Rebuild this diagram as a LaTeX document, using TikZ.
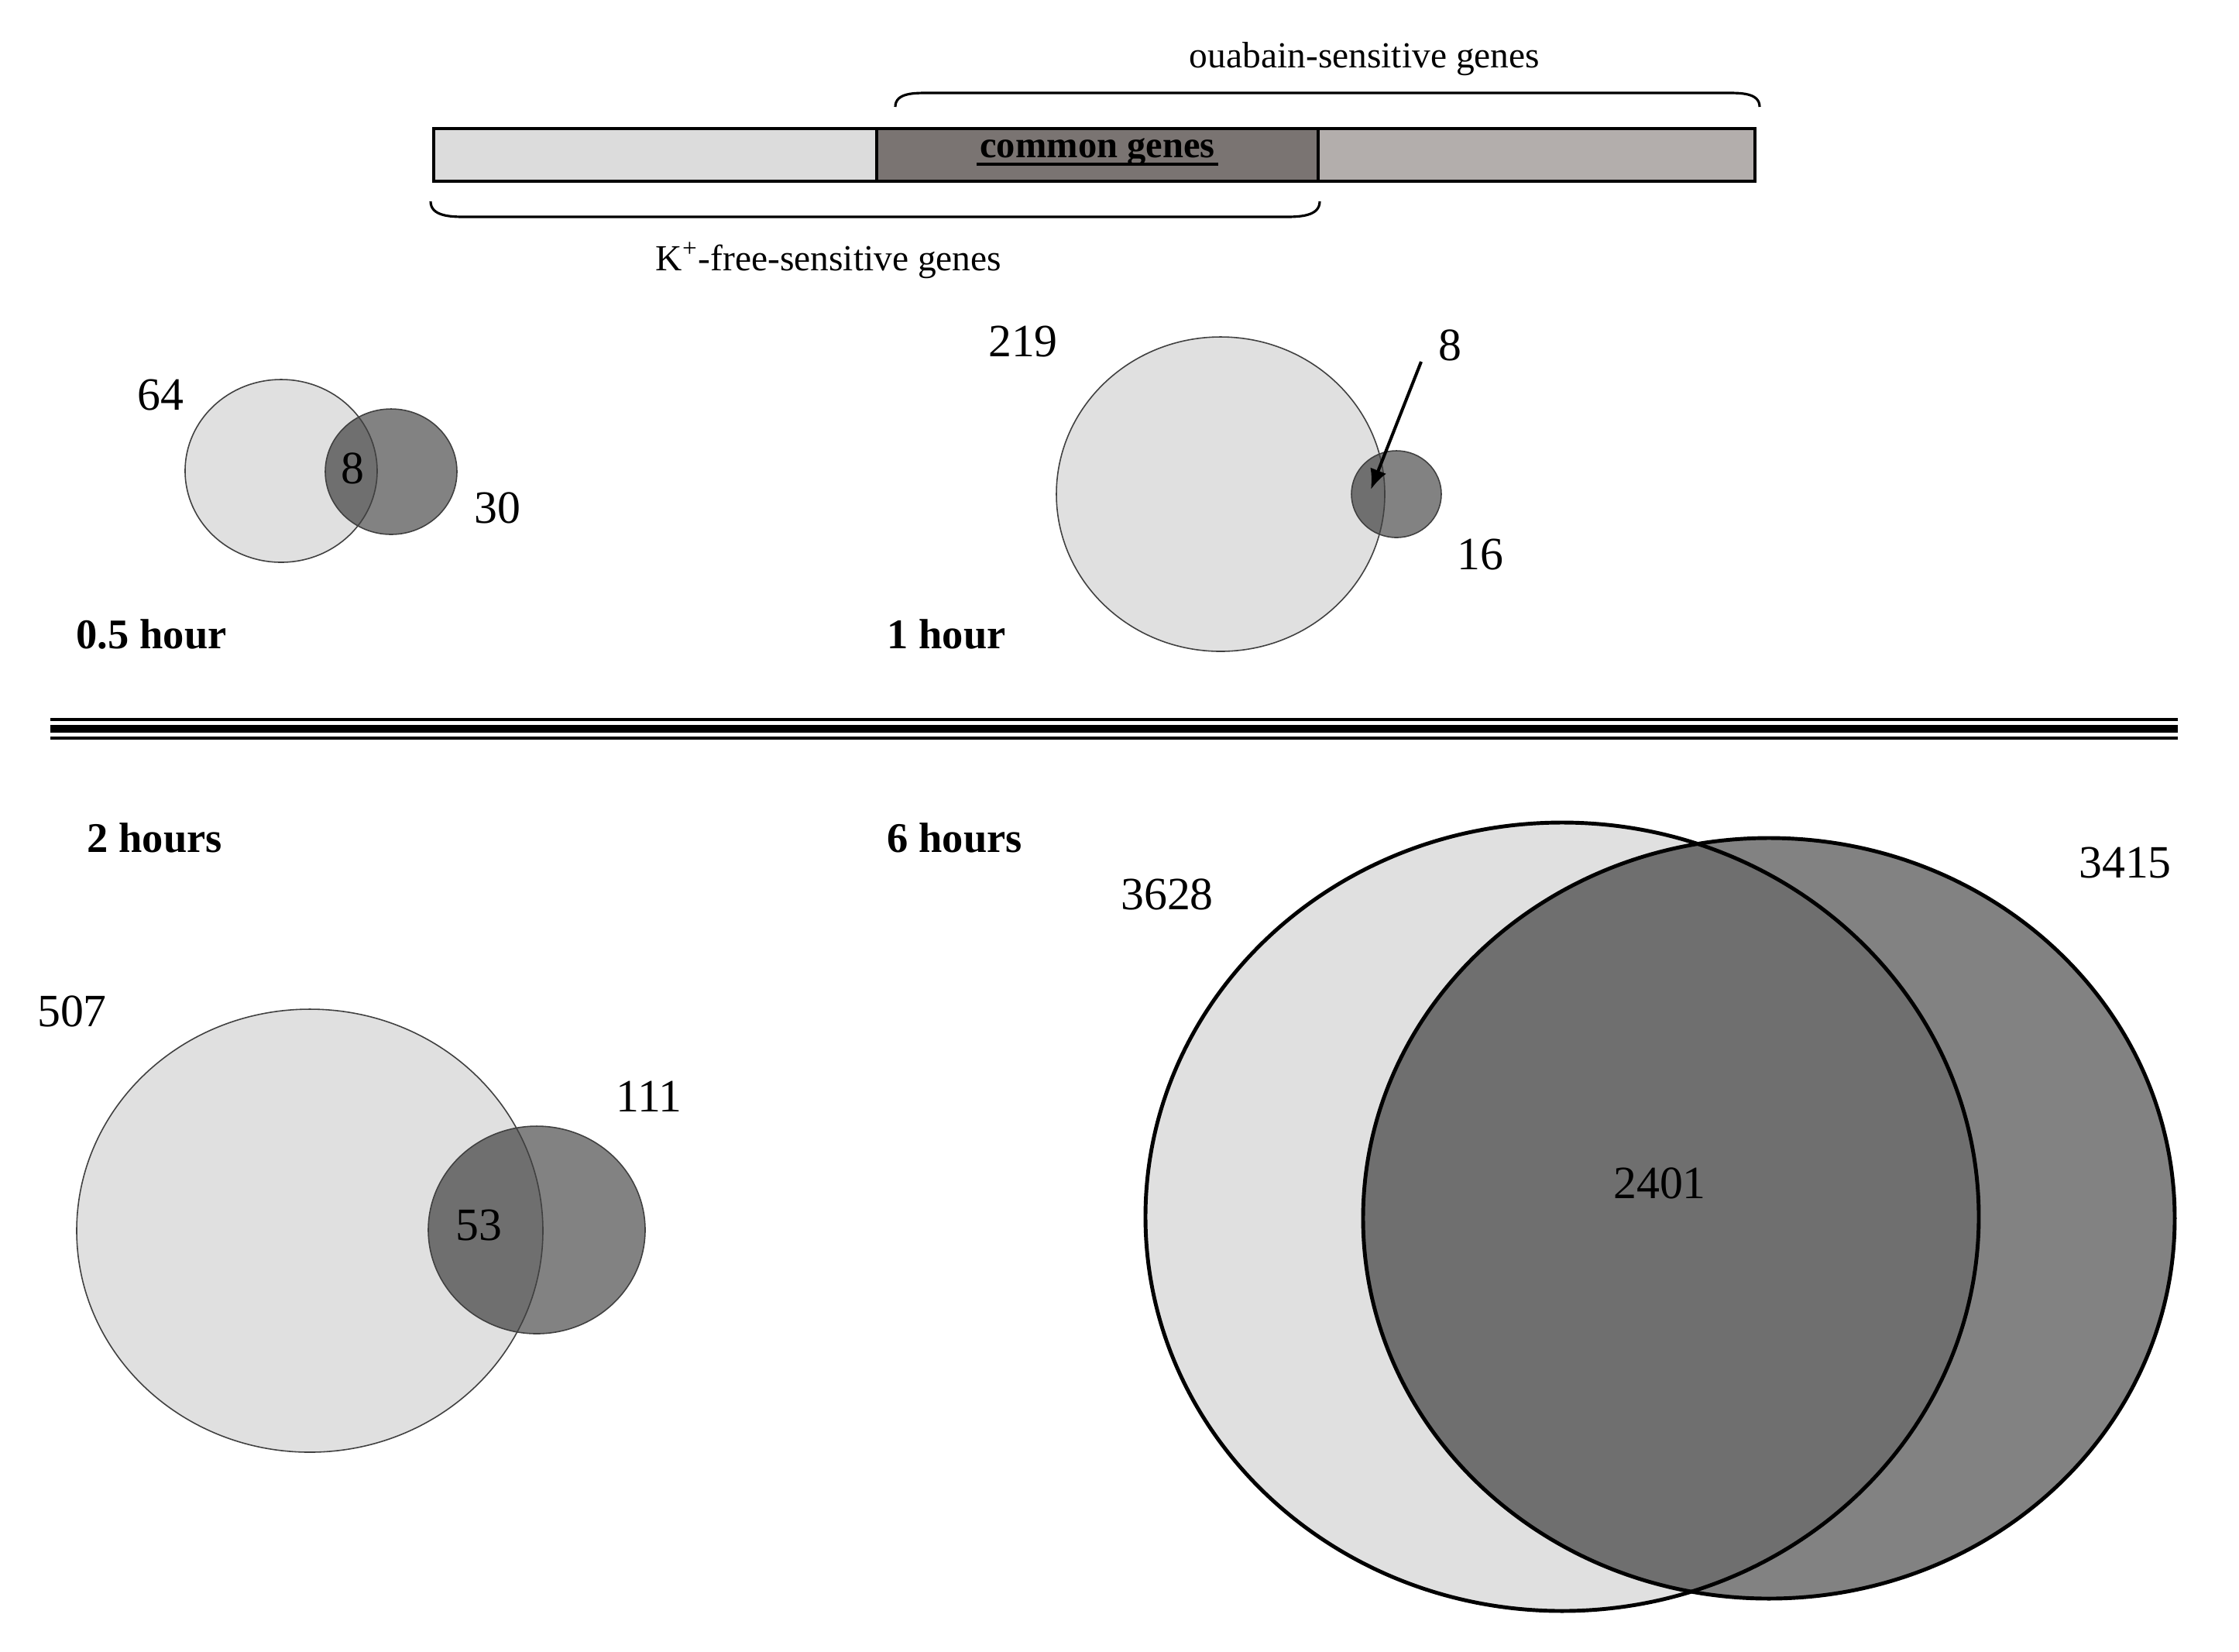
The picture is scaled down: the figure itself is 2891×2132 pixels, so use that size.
\documentclass[tikz,border=0pt]{standalone}
\usepackage{fontspec}
\setmainfont{Liberation Serif}
\usetikzlibrary{arrows.meta}
\definecolor{lightfill}{HTML}{E0E0E0}
\definecolor{darkfill}{HTML}{828282}
\definecolor{overfill}{HTML}{6F6F6F}
\definecolor{barleft}{HTML}{DCDCDC}
\definecolor{barmid}{HTML}{7A7472}
\definecolor{barright}{HTML}{B3AEAC}
\begin{document}
\begin{tikzpicture}[x=0.01cm,y=-0.01cm,
  num/.style={font=\fontsize{17}{20}\selectfont, inner sep=0pt},
  timelbl/.style={font=\fontsize{15.5}{18}\selectfont\bfseries, anchor=west, inner sep=0pt},
  toplbl/.style={font=\fontsize{13.5}{16}\selectfont, inner sep=0pt},
  thinout/.style={draw=black!75, line width=0.45pt},
  thickout/.style={draw=black, line width=1.4pt},
  barpart/.style={draw=black, line width=0.9pt},
  bracket/.style={draw=black, line width=0.9pt}]
\useasboundingbox (0,0) rectangle (2891,2132);

% ---- top bar ----
\draw[barpart, fill=barleft] (560,166) rectangle (1132,234);
\draw[barpart, fill=barright] (1702,166) rectangle (2266,234);
\draw[barpart, fill=barmid] (1132,166) rectangle (1702,234);
\node[font=\fontsize{13.8}{16}\selectfont\bfseries, inner sep=0pt, anchor=base] (common) at (1417,203) {common genes};
\draw[line width=1.4pt] ([xshift=-1pt]common.base west |- 0,212) -- ([xshift=1pt]common.base east |- 0,212);

% brackets
\draw[bracket] (1156,138) to[out=90,in=180] (1200,120) -- (2228,120) to[out=0,in=90] (2272,138);
\draw[bracket] (556,260) to[out=-90,in=180] (600,280) -- (1660,280) to[out=0,in=-90] (1704,260);
\node[toplbl] (oua) at (1762,76) {ouabain-sensitive genes};
\node[toplbl] (kfree) at (1070,336) {K\textsuperscript{+}-free-sensitive genes};

% ---- 0.5 hour ----
\fill[lightfill] (363,608) ellipse [x radius=124, y radius=118];
\fill[darkfill] (505,609) ellipse [x radius=85, y radius=81];
\begin{scope}
  \clip (363,608) ellipse [x radius=124, y radius=118];
  \fill[overfill] (505,609) ellipse [x radius=85, y radius=81];
\end{scope}
\draw[thinout] (363,608) ellipse [x radius=124, y radius=118];
\draw[thinout] (505,609) ellipse [x radius=85, y radius=81];
\node[num] (h05a) at (207,510) {64};
\node[num] (h05b) at (455,605) {8};
\node[num] (h05c) at (642,656) {30};
\node[timelbl] (t05) at (98,819) {0.5 hour};

% ---- 1 hour ----
\fill[lightfill] (1576,638) ellipse [x radius=212, y radius=203];
\fill[darkfill] (1803,638) ellipse [x radius=58, y radius=56];
\begin{scope}
  \clip (1576,638) ellipse [x radius=212, y radius=203];
  \fill[overfill] (1803,638) ellipse [x radius=58, y radius=56];
\end{scope}
\draw[thinout] (1576,638) ellipse [x radius=212, y radius=203];
\draw[thinout] (1803,638) ellipse [x radius=58, y radius=56];
\node[num] (h1a) at (1321,441) {219};
\node[num] (h1b) at (1872,446) {8};
\node[num] (h1c) at (1911,716) {16};
\coordinate (arrS) at (1835,467);
\coordinate (arrE) at (1770,632);
\draw[line width=1.15pt, -{Latex[length=0.26cm,width=0.22cm]}] (arrS) -- (arrE);
\node[timelbl] (t1) at (1145,819) {1 hour};

% ---- separator ----
\draw[line width=1.2pt] (65,929) -- (2812,929);
\draw[line width=2.6pt] (65,941) -- (2812,941);
\draw[line width=1.2pt] (65,953) -- (2812,953);

% ---- 2 hours ----
\fill[lightfill] (400,1589) ellipse [x radius=301, y radius=286];
\fill[darkfill] (693,1588) ellipse [x radius=140, y radius=134];
\begin{scope}
  \clip (400,1589) ellipse [x radius=301, y radius=286];
  \fill[overfill] (693,1588) ellipse [x radius=140, y radius=134];
\end{scope}
\draw[thinout] (400,1589) ellipse [x radius=301, y radius=286];
\draw[thinout] (693,1588) ellipse [x radius=140, y radius=134];
\node[num] (h2a) at (93,1306) {507};
\node[num] (h2b) at (618,1582) {53};
\node[num] (h2c) at (838,1416) {111};
\node[timelbl] (t2) at (112,1082) {2 hours};

% ---- 6 hours ----
\fill[lightfill] (2017,1571) ellipse [x radius=538, y radius=509];
\fill[darkfill] (2284,1573) ellipse [x radius=524, y radius=491];
\begin{scope}
  \clip (2017,1571) ellipse [x radius=538, y radius=509];
  \fill[overfill] (2284,1573) ellipse [x radius=524, y radius=491];
\end{scope}
\draw[thickout] (2017,1571) ellipse [x radius=538, y radius=509];
\draw[thickout] (2284,1573) ellipse [x radius=524, y radius=491];
\node[num] (h6a) at (1507,1155) {3628};
\node[num] (h6b) at (2143,1528) {2401};
\node[num] (h6c) at (2744,1114) {3415};
\node[timelbl] (t6) at (1145,1082) {6 hours};
\end{tikzpicture}
\end{document}
